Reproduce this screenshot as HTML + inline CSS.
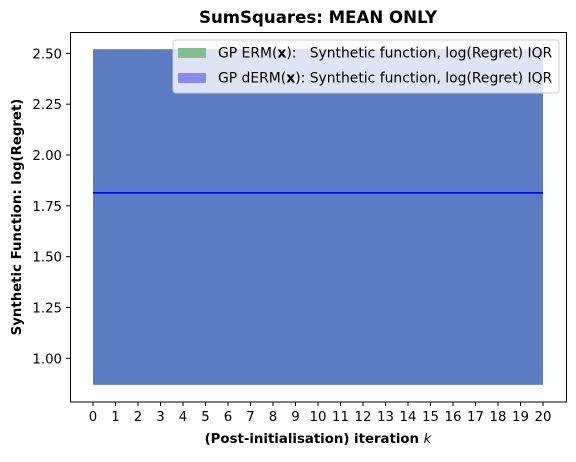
<!DOCTYPE html>
<html><head><meta charset="utf-8"><style>
body{margin:0;background:#fff;font-family:"DejaVu Sans","Liberation Sans",sans-serif}
svg text{font-family:"DejaVu Sans","Liberation Sans",sans-serif}
</style></head><body>
<svg id="c" width="576" height="458" xmlns="http://www.w3.org/2000/svg">
<text x="318" y="23" text-anchor="middle" font-size="16.6" font-weight="bold">SumSquares: MEAN ONLY</text>
<g id="plot"></g>
<rect x="70.5" y="32.5" width="496" height="369.5" fill="none" stroke="#000" stroke-width="1"/>
<g>
<rect x="173" y="40" width="386" height="53" rx="3" fill="#fff" fill-opacity="0.8" stroke="#ccc"/>
<rect x="178" y="48" width="28" height="10" fill="#83bf8e"/>
<text x="218" y="57.5" font-size="13.9">GP ERM(<tspan font-weight="bold">x</tspan>):&#160;&#160; Synthetic function, log(Regret) IQR</text>
<rect x="178" y="73" width="28" height="10" fill="#8a8af5"/>
<text x="218" y="82.5" font-size="13.9">GP dERM(<tspan font-weight="bold">x</tspan>): Synthetic function, log(Regret) IQR</text>
</g>
<text x="318" y="443" text-anchor="middle" font-size="13.3" font-weight="bold">(Post-initialisation) iteration <tspan font-style="italic" font-weight="normal">k</tspan></text>
<text transform="translate(21,217) rotate(-90)" text-anchor="middle" font-size="13.3" font-weight="bold">Synthetic Function: log(Regret)</text>
</svg>
<script>
const iterations = [0,1,2,3,4,5,6,7,8,9,10,11,12,13,14,15,16,17,18,19,20];
const meanValues = [1.814,1.814,1.814,1.814,1.814,1.814,1.814,1.814,1.814,1.814,1.814,1.814,1.814,1.814,1.814,1.814,1.814,1.814,1.814,1.814,1.814];
const iqrLow = [0.87,0.87,0.87,0.87,0.87,0.87,0.87,0.87,0.87,0.87,0.87,0.87,0.87,0.87,0.87,0.87,0.87,0.87,0.87,0.87,0.87];
const iqrHigh = [2.52,2.52,2.52,2.52,2.52,2.52,2.52,2.52,2.52,2.52,2.52,2.52,2.52,2.52,2.52,2.52,2.52,2.52,2.52,2.52,2.52];
const yTicks = [1.00,1.25,1.50,1.75,2.00,2.25,2.50];
const yTickLabels = ["1.00","1.25","1.50","1.75","2.00","2.25","2.50"];

const NS="http://www.w3.org/2000/svg";
const xS = k => 93 + (k - 0) * (543 - 93) / 20;
const yS = v => 358.3 - (v - 1.0) * 203.3;
const g = document.getElementById('plot');
function mk(t, a){const e=document.createElementNS(NS,t);for(const k in a)e.setAttribute(k,a[k]);return e;}

let d = iterations.map((k,i)=>(i?'L':'M')+xS(k)+','+yS(iqrHigh[i])).join('');
for(let i=iterations.length-1;i>=0;i--) d+='L'+xS(iterations[i])+','+yS(iqrLow[i]);
d+='Z';
const bandG = mk('path',{d:d,fill:'#83bf8e'});


g.appendChild(bandG);
const bandB = mk('path',{d:d,fill:'#5b7bc3'});


g.appendChild(bandB);
const line = mk('polyline',{points:iterations.map((k,i)=>xS(k)+','+yS(meanValues[i])).join(' '),fill:'none',stroke:'#0000ff','stroke-width':1.6});


g.appendChild(line);

iterations.forEach(k=>{
  const t = mk('line',{x1:xS(k),x2:xS(k),y1:402,y2:406,stroke:'#000'});
  
  
  g.appendChild(t);
  const l = mk('text',{x:xS(k),y:421,'text-anchor':'middle','font-size':13.3});
  l.textContent = k;
  
  
  g.appendChild(l);
});
yTicks.forEach((v,i)=>{
  const t = mk('line',{x1:66,x2:70.5,y1:yS(v),y2:yS(v),stroke:'#000'});
  
  
  g.appendChild(t);
  const l = mk('text',{x:62,y:yS(v)+5,'text-anchor':'end','font-size':13.3});
  l.textContent = yTickLabels[i];
  
  
  g.appendChild(l);
});
</script>
</body></html>
